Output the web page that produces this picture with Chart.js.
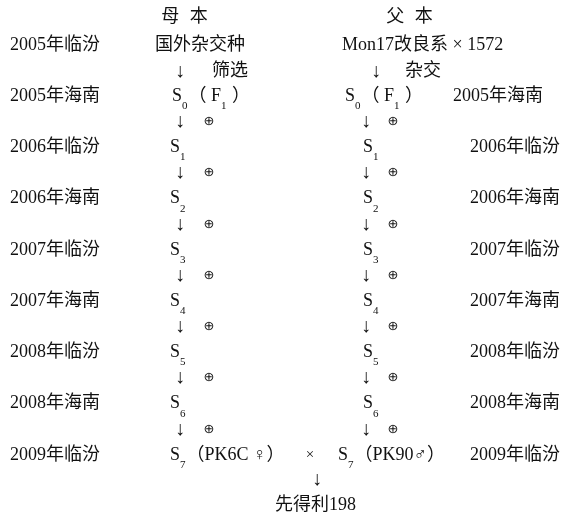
<!DOCTYPE html>
<html>
<head>
<meta charset="utf-8">
<script src="https://cdn.jsdelivr.net/npm/chart.js@4"></script>
<style>
  body { margin: 0; background: #fff; }
  #wrap { width: 564px; height: 517px; }
</style>
</head>
<body>
<div id="wrap"><canvas id="pedigreeChart"></canvas></div>
<script>
// Pedigree of 先得利198 (rows are breeding seasons)
const parents = ['母 本', '父 本'];
const sources = ['国外杂交种', 'Mon17改良系 × 1572'];
const steps = ['筛选', '杂交'];
const leftPlaces = ['2005年临汾', '2005年海南', '2006年临汾', '2006年海南', '2007年临汾',
                    '2007年海南', '2008年临汾', '2008年海南', '2009年临汾'];
const rightPlaces = ['2005年海南', '2006年临汾', '2006年海南', '2007年临汾',
                     '2007年海南', '2008年临汾', '2008年海南', '2009年临汾'];
const generations = ['0', '1', '2', '3', '4', '5', '6', '7'];
const inbredLines = ['PK6C ♀', 'PK90♂'];
const selfMark = '⊕';
const crossMark = '×';
const hybridName = '先得利198';

const FONT = '"Liberation Serif", "Noto Sans CJK SC", serif';
const INK = '#111';

// column positions (x) on a 0..564 axis
const col = { place: 10, leftS: 170, leftArrow: 180, leftSelf: 209, rightS: 363,
              rightArrow: 366, rightSelf: 393, rightPlace: 470 };

// text with "_d" meaning subscript digit
function drawRich(ctx, str, x, y, size) {
    let cx = x;
    for (let i = 0; i < str.length; i++) {
        let ch = str[i];
        if (ch === '_') {
            i++;
            ctx.font = Math.round(size * 0.6) + 'px ' + FONT;
            ctx.fillText(str[i], cx, y + size * 0.55);
            cx += ctx.measureText(str[i]).width + 1;
        } else {
            ctx.font = size + 'px ' + FONT;
            ctx.fillText(ch, cx, y);
            cx += ctx.measureText(ch).width;
        }
    }
}

function arrow(ctx, x, y) {
    ctx.font = '20px ' + FONT;
    ctx.fillText('↓', x, y);
}

const pedigreeText = {
    id: 'pedigreeText',
    afterDatasetsDraw(chart) {
        const ctx = chart.ctx;
        const xs = chart.scales.x, ys = chart.scales.y;
        const px = v => xs.getPixelForValue(v);
        const py = v => ys.getPixelForValue(v);
        ctx.save();
        ctx.fillStyle = INK;
        ctx.textBaseline = 'middle';

        // header
        ctx.textAlign = 'center';
        ctx.font = '18px ' + FONT;
        ctx.letterSpacing = '3px';
        ctx.fillText(parents[0], px(186), py(-0.55));
        ctx.fillText(parents[1], px(411), py(-0.55));
        ctx.letterSpacing = '0px';

        // sources
        ctx.textAlign = 'left';
        ctx.fillText(sources[0], px(155), py(0));
        ctx.fillText(sources[1], px(342), py(0));

        // first step
        ctx.textAlign = 'center';
        arrow(ctx, px(180), py(0.52));
        arrow(ctx, px(376), py(0.52));
        ctx.font = '18px ' + FONT;
        ctx.textAlign = 'left';
        ctx.fillText(steps[0], px(212), py(0.52));
        ctx.fillText(steps[1], px(405), py(0.52));

        // place labels
        leftPlaces.forEach((p, i) => {
            ctx.font = '18px ' + FONT;
            ctx.fillText(p, px(col.place), py(i));
        });
        rightPlaces.forEach((p, i) => {
            ctx.font = '18px ' + FONT;
            ctx.fillText(p, px(i === 0 ? 453 : col.rightPlace), py(i + 1));
        });

        // generations
        generations.forEach((g, i) => {
            const row = i + 1;
            let lt = 'S_' + g, rt = 'S_' + g;
            let lx = col.leftS, rx = col.rightS;
            if (i === 0) { lt += '（ F_1 ）'; rt += '（ F_1 ）'; lx = 172; rx = 345; }
            if (i === generations.length - 1) {
                lt += '（' + inbredLines[0] + '）';
                rt += '（' + inbredLines[1] + '）';
                rx = 338;
            }
            ctx.textAlign = 'left';
            drawRich(ctx, lt, px(lx), py(row), 18);
            drawRich(ctx, rt, px(rx), py(row), 18);

            if (i < generations.length - 1) {
                ctx.textAlign = 'center';
                arrow(ctx, px(col.leftArrow), py(row + 0.5));
                arrow(ctx, px(col.rightArrow), py(row + 0.5));
                ctx.font = '13px "DejaVu Sans", ' + FONT;
                ctx.fillText(selfMark, px(col.leftSelf), py(row + 0.5));
                ctx.fillText(selfMark, px(col.rightSelf), py(row + 0.5));
            }
        });

        // cross and hybrid
        ctx.textAlign = 'center';
        ctx.font = '15px ' + FONT;
        ctx.fillText(crossMark, px(310), py(8));
        arrow(ctx, px(317), py(8.49));
        ctx.textAlign = 'left';
        ctx.font = '18px ' + FONT;
        ctx.fillText(hybridName, px(275), py(8.98));
        ctx.restore();
    }
};

new Chart(document.getElementById('pedigreeChart'), {
    type: 'scatter',
    data: {
        datasets: [{
            label: 'generations',
            data: generations.map((g, i) => ({ x: col.leftS, y: i + 1 })),
            pointRadius: 0
        }]
    },
    options: {
        responsive: true,
        maintainAspectRatio: false,
        animation: false,
        layout: { padding: 0 },
        scales: {
            x: { type: 'linear', min: 0, max: 564, display: false },
            y: { type: 'linear', min: -0.878, max: 9.21, reverse: true, display: false }
        },
        plugins: {
            legend: { display: false },
            tooltip: { enabled: false }
        }
    },
    plugins: [pedigreeText]
});
</script>
</body>
</html>
